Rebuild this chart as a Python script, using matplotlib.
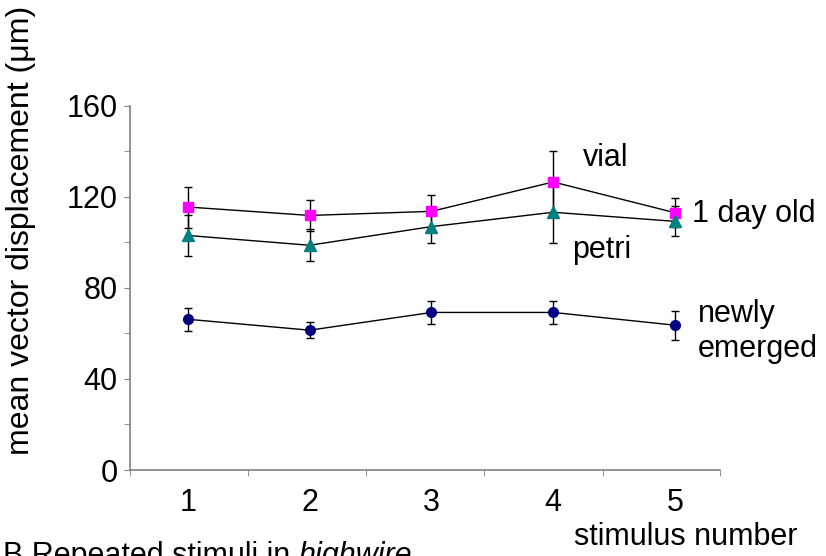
import matplotlib
matplotlib.use('Agg')
import numpy as np
import matplotlib.pyplot as plt
from matplotlib.ticker import FixedLocator

plt.rcParams['font.family'] = ['Liberation Sans', 'DejaVu Sans']

stimulus = [1, 2, 3, 4, 5]
vial = [115.5, 111.8, 113.6, 126.5, 113.0]
vial_err = [9.0, 7.0, 7.3, 13.5, 6.4]
petri = [103.0, 98.7, 106.9, 113.2, 109.2]
petri_err = [8.8, 7.0, 7.0, 13.7, 6.6]
newly = [66.2, 61.4, 69.2, 69.2, 63.6]
newly_err = [5.0, 3.4, 5.2, 5.2, 6.4]

W, H = 826, 556
fig = plt.figure(figsize=(W / 100, H / 100), dpi=100)
ax = fig.add_axes([130 / W, 1 - 470 / H, 590 / W, (470 - 105.7) / H])

fs = 22

series = [
    (vial, vial_err, 's', '#ff00ff', 7),
    (petri, petri_err, '^', '#008080', 8),
    (newly, newly_err, 'o', '#000080', 7),
]
for y, err, mk, col, ms in series:
    ax.errorbar(stimulus, y, yerr=err, fmt='none', ecolor='black',
                elinewidth=1, capsize=3, capthick=1, zorder=2)
    ax.plot(stimulus, y, color='black', lw=1, zorder=3)
    ax.plot(stimulus, y, linestyle='none', marker=mk, ms=ms, mfc=col,
            mec=col, zorder=4)

ax.set_xlim(0.524, 5.37)
ax.set_ylim(0, 160)

ax.set_yticks([0, 40, 80, 120, 160])
ax.yaxis.set_minor_locator(FixedLocator([20, 60, 100, 140]))
ax.set_xticks(stimulus)
ax.xaxis.set_minor_locator(FixedLocator([0.524, 1.49, 2.46, 3.43, 4.41, 5.37]))

for s in ['top', 'right']:
    ax.spines[s].set_visible(False)
for s in ['left', 'bottom']:
    ax.spines[s].set_color('#808080')
    ax.spines[s].set_linewidth(1.2)

ax.tick_params(axis='y', which='both', direction='out', length=4,
               color='#808080', labelsize=fs, pad=5)
ax.tick_params(axis='x', which='major', length=0, labelsize=fs, pad=13)
ax.tick_params(axis='x', which='minor', direction='out', length=4,
               color='#808080')


def px(x, y):
    return x / W, 1 - y / H


fig.text(*px(21, 230), 'mean vector displacement (μm)', fontsize=23,
         rotation=90, ha='center', va='center')

fig.text(*px(583, 166), 'vial', fontsize=fs, va='baseline')
fig.text(*px(692, 222), '1 day old', fontsize=fs, va='baseline')
fig.text(*px(572, 258), 'petri', fontsize=fs, va='baseline')
fig.text(*px(698, 322), 'newly', fontsize=fs, va='baseline')
fig.text(*px(698, 357), 'emerged', fontsize=fs, va='baseline')
fig.text(*px(686, 545), 'stimulus number', fontsize=fs, va='baseline',
         ha='center')

# the caption runs off the bottom edge, as in the original
t = fig.text(*px(3, 564), 'B Repeated stimuli in ', fontsize=fs,
             va='baseline')
fig.canvas.draw()
bb = t.get_window_extent()
fig.text(bb.x1 / W, 1 - 564 / H, 'highwire', fontsize=fs, va='baseline',
         style='italic')

fig.savefig('out.png', dpi=100)
